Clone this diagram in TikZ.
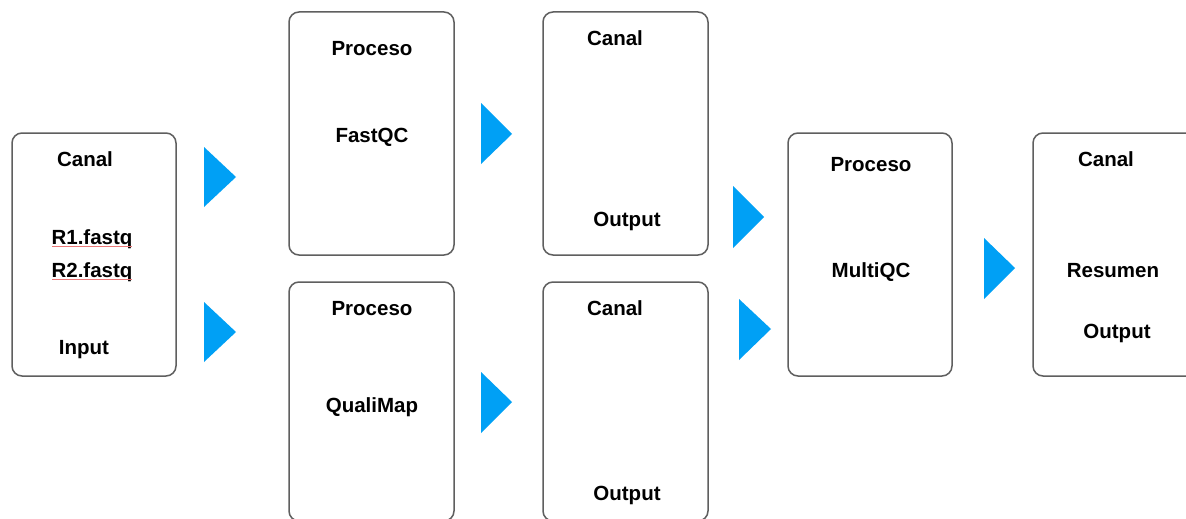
\documentclass[tikz,border=0pt]{standalone}
\usepackage{fontspec}
\setmainfont{Liberation Sans}
\definecolor{boxline}{RGB}{95,95,95}
\definecolor{tricol}{RGB}{0,160,245}
\definecolor{spellred}{RGB}{235,120,120}
\begin{document}
\begin{tikzpicture}[x=1pt,y=-1pt,
  box/.style={draw=boxline,line width=1.5pt,rounded corners=10pt,fill=white},
  lbl/.style={anchor=base,inner sep=0pt,font=\fontsize{20.5}{22}\selectfont\bfseries},
  tri/.style={fill=tricol}]
\useasboundingbox (0,0) rectangle (1186,519);
\clip (0,0) rectangle (1186,519);
\fill[white] (0,0) rectangle (1186,519);
% boxes
\draw[box] (12,133) rectangle (176,376);
\draw[box] (289,12) rectangle (454,255);
\draw[box] (543,12) rectangle (708,255);
\draw[box] (289,282) rectangle (454,521);
\draw[box] (543,282) rectangle (708,521);
\draw[box] (788,133) rectangle (952,376);
\draw[box] (1033,133) rectangle (1197,376);
% input channel
\node[lbl] (inCanal) at (85,166) {Canal};
\node[lbl] (inR1) at (92,244) {R1.fastq};
\node[lbl] (inR2) at (92,277) {R2.fastq};
\node[lbl] (inInput) at (84,354) {Input};
\draw[spellred,line width=0.8pt] (52,246) -- (132,246);
\draw[spellred,line width=0.8pt] (52,279) -- (132,279);
% FastQC
\node[lbl] (fqProc) at (372,56) {Proceso};
\node[lbl] (fqName) at (372,142) {FastQC};
\node[lbl] (c1Canal) at (615,46) {Canal};
\node[lbl] (c1Out) at (627,226) {Output};
% QualiMap
\node[lbl] (qmProc) at (372,315) {Proceso};
\node[lbl] (qmName) at (372,412) {QualiMap};
\node[lbl] (c2Canal) at (615,315) {Canal};
\node[lbl] (c2Out) at (627,500) {Output};
% MultiQC
\node[lbl] (mqProc) at (871,171) {Proceso};
\node[lbl] (mqName) at (871,277) {MultiQC};
% Resumen
\node[lbl] (rsCanal) at (1106,166) {Canal};
\node[lbl] (rsName) at (1113,277) {Resumen};
\node[lbl] (rsOut) at (1117,338) {Output};
% triangles
\fill[tri] (204,147) -- (204,207) -- (236,177) -- cycle;
\fill[tri] (204,302) -- (204,362) -- (236,332) -- cycle;
\fill[tri] (481,103) -- (481,164) -- (512,134) -- cycle;
\fill[tri] (481,372) -- (481,433) -- (512,402) -- cycle;
\fill[tri] (733,186) -- (733,248) -- (764,217) -- cycle;
\fill[tri] (739,299) -- (739,360) -- (771,329) -- cycle;
\fill[tri] (984,238) -- (984,299) -- (1015,268) -- cycle;
\end{tikzpicture}
\end{document}
